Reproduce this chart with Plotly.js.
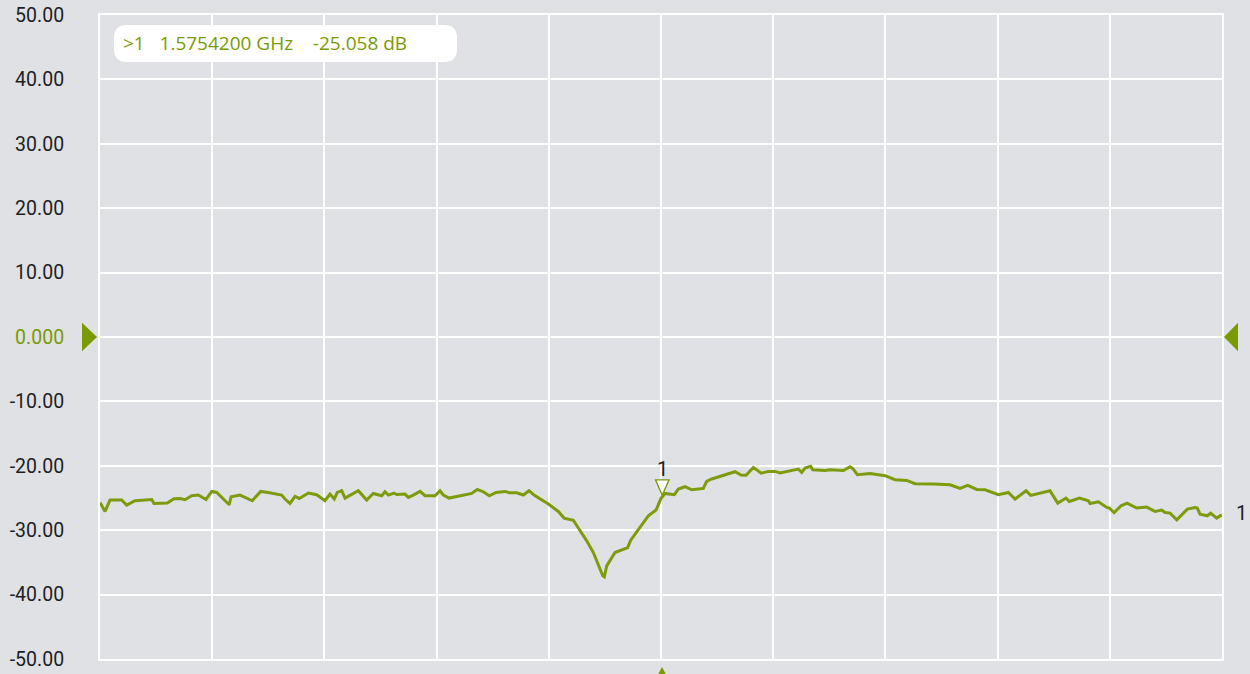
<!DOCTYPE html>
<html>
<head>
<meta charset="utf-8">
<script src="https://cdn.plot.ly/plotly-3.0.1.min.js"></script>
<style>
html,body{margin:0;padding:0;background:#e0e1e5;}
#chart{width:1250px;height:674px;}
</style>
</head>
<body>
<div id="chart"></div>
<script>
// Trace 1 frequency (MHz) and level (dB)
const freqMHz = [
1525.42,1525.87,1526.31,1527.35,1527.80,1528.54,1530.03,1530.23,1531.42,1532.02,
1532.55,1533.00,1533.59,1534.18,1534.87,1535.38,1535.82,1536.56,1536.94,1537.10,
1537.90,1538.99,1539.74,1540.42,1541.61,1541.91,1542.35,1542.80,1543.18,1543.99,
1544.73,1545.47,1545.92,1546.30,1546.57,1546.96,1547.26,1548.44,1549.19,1549.78,
1550.22,1550.53,1550.82,1551.12,1551.62,1551.86,1552.60,1552.90,1553.34,1553.94,
1554.39,1555.28,1555.72,1556.02,1556.53,1558.10,1558.55,1559.05,1559.58,1560.12,
1560.72,1561.52,1561.90,1562.56,1563.15,1563.66,1564.10,1565.38,1566.27,1566.78,
1567.61,1568.05,1568.80,1569.39,1569.83,1570.23,1570.37,1570.58,1571.32,1572.45,
1572.72,1573.40,1574.29,1574.98,1575.42,1575.78,1576.61,1576.96,1577.56,1578.16,
1579.19,1579.49,1579.94,1582.02,1582.55,1583.00,1583.65,1584.34,1584.99,1585.58,
1586.03,1587.66,1587.96,1588.26,1588.76,1588.94,1590.04,1590.48,1591.67,1592.27,
1592.56,1592.92,1594.05,1595.39,1596.28,1597.32,1598.06,1599.69,1601.18,1602.07,
1602.76,1603.56,1604.30,1605.49,1606.38,1606.97,1607.95,1608.37,1610.09,1610.78,
1611.52,1611.81,1612.71,1613.51,1613.66,1614.40,1615.15,1615.38,1615.80,1616.42,
1616.96,1617.82,1618.71,1619.45,1620.05,1620.34,1620.79,1621.39,1622.33,1623.02,
1623.22,1623.46,1624.11,1624.41,1624.95,1625.40
];
const levelDb = [
-25.69,-27.09,-25.32,-25.32,-26.10,-25.43,-25.23,-25.85,-25.79,-25.12,
-25.07,-25.27,-24.65,-24.54,-25.23,-23.98,-24.14,-25.32,-26.05,-24.81,
-24.54,-25.43,-23.98,-24.14,-24.54,-25.16,-25.85,-24.76,-25.07,-24.23,
-24.49,-25.43,-24.39,-25.16,-24.14,-23.87,-25.01,-23.87,-25.32,-24.29,
-24.54,-24.65,-24.03,-24.54,-24.23,-24.45,-24.39,-24.91,-24.54,-23.98,
-24.65,-24.65,-23.87,-24.54,-25.01,-24.49,-24.29,-23.67,-24.03,-24.65,
-24.14,-23.98,-24.18,-24.18,-24.54,-23.87,-24.54,-25.94,-27.09,-28.12,
-28.46,-29.67,-31.65,-33.47,-35.27,-37.09,-37.25,-35.54,-33.47,-32.69,
-31.54,-29.98,-27.76,-26.87,-25.058,-24.29,-24.49,-23.61,-23.25,-23.72,
-23.51,-22.43,-22.05,-20.92,-21.43,-21.46,-20.25,-21.15,-20.87,-20.87,
-21.12,-20.50,-21.03,-20.34,-20.09,-20.61,-20.72,-20.61,-20.72,-20.14,
-20.50,-21.38,-21.18,-21.54,-22.16,-22.27,-22.78,-22.83,-22.94,-23.51,
-23.05,-23.67,-23.72,-24.49,-24.14,-25.16,-23.87,-24.60,-23.87,-25.79,
-25.01,-25.54,-25.01,-25.43,-25.85,-25.58,-26.47,-26.56,-27.29,-26.21,
-25.79,-26.56,-26.41,-27.09,-26.87,-27.25,-27.34,-28.38,-26.72,-26.47,
-26.56,-27.50,-27.76,-27.34,-28.12,-27.60
];
// Axis settings
const startMHz = 1525.42;
const stopMHz = 1625.42;
const yTickVals = [50,40,30,20,10,0,-10,-20,-30,-40,-50];
const yTickText = ["50.00","40.00","30.00","20.00","10.00","0.000","-10.00","-20.00","-30.00","-40.00","-50.00"];
const refLevel = 0;
// Marker 1
const markerName = "1";
const markerFreqGHz = 1.57542;
const markerDb = -25.058;

const green = '#7a9a01';
const traceGreen = '#7d9b0c';
const bg = '#e0e1e5';

const tickText = yTickText.map(function(t, i){
  return yTickVals[i] === refLevel ? '<span style="color:' + green + '">' + t + '</span>' : t;
});

const markerMHz = markerFreqGHz * 1000;

const data = [
  {
    x: freqMHz, y: levelDb, type: 'scatter', mode: 'lines',
    line: {color: traceGreen, width: 3}, hoverinfo: 'skip'
  }
];

const sp3 = '&nbsp;&nbsp;&nbsp;';
const sp4 = '&nbsp;&nbsp;&nbsp;&nbsp;';
const readout = '&gt;' + markerName + sp3 + markerFreqGHz.toFixed(7) +
  ' GHz' + sp4 + markerDb.toFixed(3) + ' dB';

const layout = {
  width: 1250, height: 674,
  paper_bgcolor: bg, plot_bgcolor: bg,
  margin: {l: 100, r: 28, t: 15, b: 15},
  showlegend: false,
  font: {family: 'Roboto, sans-serif', size: 19, color: '#222'},
  xaxis: {
    range: [startMHz, stopMHz], dtick: 10, tick0: startMHz,
    showticklabels: false, ticks: '', zeroline: false,
    showgrid: true, gridcolor: '#ffffff', gridwidth: 2,
    showline: true, linecolor: '#ffffff', linewidth: 2, mirror: true
  },
  yaxis: {
    range: [-50, 50], tickmode: 'array', tickvals: yTickVals, ticktext: tickText,
    ticks: '', zeroline: false, ticklabelstandoff: 30,
    showgrid: true, gridcolor: '#ffffff', gridwidth: 2,
    showline: true, linecolor: '#ffffff', linewidth: 2, mirror: true,
    tickfont: {family: 'Roboto, sans-serif', size: 19.5, color: '#1e1e1e'}
  },
  shapes: [
    // readout box (rounded)
    {
      type: 'path', xref: 'x', yref: 'y',
      xsizemode: 'pixel', ysizemode: 'pixel', xanchor: startMHz, yanchor: 50,
      path: 'M 27,-10 L 344,-10 Q 357,-10 357,-23 L 357,-34 Q 357,-47 344,-47 L 27,-47 Q 14,-47 14,-34 L 14,-23 Q 14,-10 27,-10 Z',
      fillcolor: '#ffffff', line: {width: 0}, layer: 'above'
    },
    // reference level triangles
    {
      type: 'path', xref: 'paper', yref: 'y', xsizemode: 'pixel', xanchor: 0,
      path: 'M -18,2.2 L -3,' + refLevel + ' L -18,-2.2 Z',
      fillcolor: green, line: {width: 0}
    },
    {
      type: 'path', xref: 'paper', yref: 'y', xsizemode: 'pixel', xanchor: 1,
      path: 'M 16,2.2 L 2,' + refLevel + ' L 16,-2.2 Z',
      fillcolor: green, line: {width: 0}
    },
    // marker position triangle under the frequency axis
    {
      type: 'path', xref: 'x', yref: 'paper',
      xsizemode: 'pixel', ysizemode: 'pixel', xanchor: markerMHz, yanchor: 0,
      path: 'M -6.5,-22 L 1,-8 L 8.5,-22 Z',
      fillcolor: green, line: {width: 0}
    },
    // marker 1 triangle
    {
      type: 'path', xref: 'x', yref: 'y',
      xsizemode: 'pixel', ysizemode: 'pixel', xanchor: markerMHz, yanchor: markerDb,
      path: 'M -5.5,18.5 L 8,18.5 L 1.2,3 Z',
      fillcolor: '#ffffff', line: {color: green, width: 1.3}, layer: 'above'
    }
  ],
  annotations: [
    {
      xref: 'paper', yref: 'paper', x: 0, y: 1, xanchor: 'left', yanchor: 'middle',
      xshift: 21, yshift: -28, showarrow: false, text: readout,
      font: {family: '"Open Sans", sans-serif', size: 19, color: green}
    },
    {
      xref: 'x', yref: 'y', x: markerMHz, y: markerDb, showarrow: false,
      yshift: 29, xshift: 1, text: markerName,
      font: {family: 'Roboto, sans-serif', size: 20, color: '#222'}
    },
    {
      xref: 'paper', yref: 'y', x: 1, y: levelDb[levelDb.length - 1], xanchor: 'left',
      xshift: 12, yshift: 2, showarrow: false, text: '1',
      font: {family: 'Roboto, sans-serif', size: 20, color: '#222'}
    }
  ]
};

Plotly.newPlot('chart', data, layout, {displayModeBar: false, staticPlot: true});
</script>
</body>
</html>
